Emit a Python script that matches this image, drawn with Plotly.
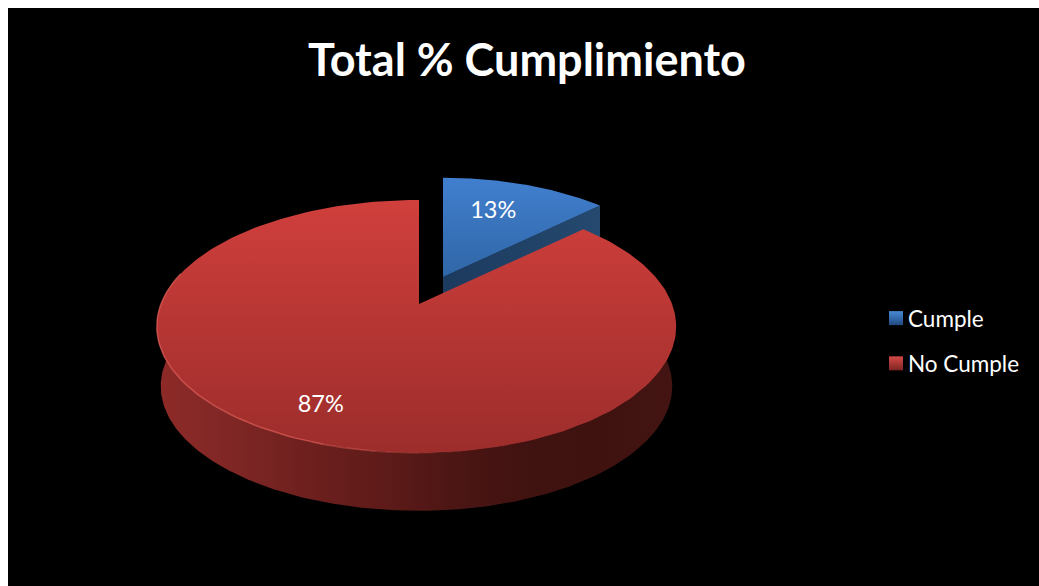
import math
import plotly.graph_objects as go

categories = ["Cumple", "No Cumple"]
values = [13, 87]
title_text = "Total % Cumplimiento"

# projection of the tilted pie disc onto page pixels
CX, CY = 419.0, 304.0
BXR, BXL, BY, K = 253.0, 258.0, 122.5, 0.178
DEPTH_S, DEPTH_Y = 0.985, 60.0
BLUE_C = (443.0, 277.0)
BLUE_S = 0.955
W, H = 1031, 578


def proj(theta, r=1.0):
    u = r * math.sin(theta)
    v = r * math.cos(theta)
    w = 1 + K * v
    return (BXR if u >= 0 else BXL) * u / w, BY * v / w


def rim(a0, a1, n=240):
    return [a0 + (a1 - a0) * i / n for i in range(n + 1)]


split = 2 * math.pi * values[0] / sum(values)
full = 2 * math.pi

fig = go.Figure()


def poly(xs, ys, colors, kind, name):
    n = len(colors) - 1
    fig.add_trace(go.Scatter(
        x=xs, y=ys, mode="lines", fill="toself", line=dict(width=0),
        fillgradient=dict(type=kind, colorscale=[[i / n, c] for i, c in enumerate(colors)]),
        hoverinfo="skip", showlegend=False, name=name))


# blue side
px, py = proj(split)
bx0, by0 = BLUE_C
rx, ry = bx0 + BLUE_S * px, by0 - BLUE_S * py
sd = 44
poly([bx0, rx, rx, bx0, bx0], [by0, ry, ry + sd, by0 + sd, by0], ["#1c3a5e", "#25496f"], "horizontal", "Cumple side")
# blue top
angs = rim(0, split)
xs = [bx0] + [bx0 + BLUE_S * proj(a)[0] for a in angs] + [bx0]
ys = [by0] + [by0 - BLUE_S * proj(a)[1] for a in angs] + [by0]
poly(xs, ys, ["#2f66a6", "#417fcf"], "vertical", "Cumple top")

# red side: front rim from right extreme to left extreme
front = rim(math.radians(78), math.radians(282))
tx = [CX + proj(a)[0] for a in front]
ty = [CY - proj(a)[1] for a in front]
bx = [CX + DEPTH_S * proj(a)[0] for a in front]
by = [CY + DEPTH_Y - DEPTH_S * proj(a)[1] for a in front]
side_colors = ["#8e2a28", "#7f2725", "#6e201e", "#5f1b19", "#4c1614", "#401210", "#3f1210", "#431412"]
poly(tx + bx[::-1] + [tx[0]], ty + by[::-1] + [ty[0]], side_colors, "horizontal", "No Cumple side")

# red top
angs = rim(split, full)
xs = [CX] + [CX + proj(a)[0] for a in angs] + [CX]
ys = [CY] + [CY - proj(a)[1] for a in angs] + [CY]
poly(xs, ys, ["#9c2d2b", "#d03f3c"], "vertical", "No Cumple top")

# front rim highlight, fading towards the front of the pie
hl_stops = [(172, 180, 0.12), (180, 188, 0.3), (188, 198, 0.5), (198, 285, 0.7)]
for a0, a1, alpha in hl_stops:
    hl = rim(math.radians(a0), math.radians(a1), 60)
    fig.add_trace(go.Scatter(x=[CX + proj(a)[0] for a in hl], y=[CY - proj(a)[1] for a in hl], mode="lines",
                             line=dict(color=f"rgba(226,96,90,{alpha})", width=1.5),
                             hoverinfo="skip", showlegend=False))

# data labels
mid0 = split / 2
mid1 = split + (full - split) / 2
lx0 = bx0 + BLUE_S * proj(mid0, 0.7)[0] - 10
ly0 = by0 - BLUE_S * proj(mid0, 0.7)[1] + 3
lx1 = CX + proj(mid1, 0.8)[0] - 4
ly1 = CY - proj(mid1, 0.8)[1] - 1
fig.add_trace(go.Scatter(x=[lx0, lx1], y=[ly0, ly1], mode="text",
                         text=[f"{v}%" for v in values],
                         textfont=dict(family="Lato", size=23.5, color="white"),
                         hoverinfo="skip", showlegend=False))

# legend entries
leg_colors = [("#4a8ad6", "#1f4a80"), ("#d64a46", "#7c2422")]
for name, (c0, c1) in zip(categories, leg_colors):
    fig.add_trace(go.Scatter(x=[None], y=[None], mode="markers", name=name, legendgroup=name,
                             marker=dict(symbol="square", size=14, color=c0,
                                         gradient=dict(type="vertical", color=c1))))

fig.update_layout(
    width=W, height=H,
    margin=dict(l=0, r=0, t=0, b=0),
    paper_bgcolor="black", plot_bgcolor="black",
    xaxis=dict(range=[8, 8 + W], visible=False, fixedrange=True),
    yaxis=dict(range=[8 + H, 8], visible=False, fixedrange=True),
    title=dict(text=f"<b>{title_text}</b>", x=(527 - 8) / W, xanchor="center",
               y=1 - (60 - 8) / H, yanchor="middle",
               font=dict(family="Lato", size=45, color="white")),
    legend=dict(x=(868 - 8) / W, y=1 - (297 - 8) / H, xanchor="left", yanchor="top",
                bgcolor="rgba(0,0,0,0)", font=dict(family="Lato", size=22.5, color="white"),
                itemclick=False, itemdoubleclick=False, tracegroupgap=13),
)
# the reference puts its swatches closer to the legend text than plotly's fixed item width does;
# the page margin is dropped on the right and bottom so the black frame runs to the window edge
post = ("document.querySelectorAll('.legendpoints').forEach(function(g){g.setAttribute('transform','translate(8,0)');});"
        "document.body.style.margin='8px 0 0 8px';")
fig.write_html("out.html", post_script=post)
